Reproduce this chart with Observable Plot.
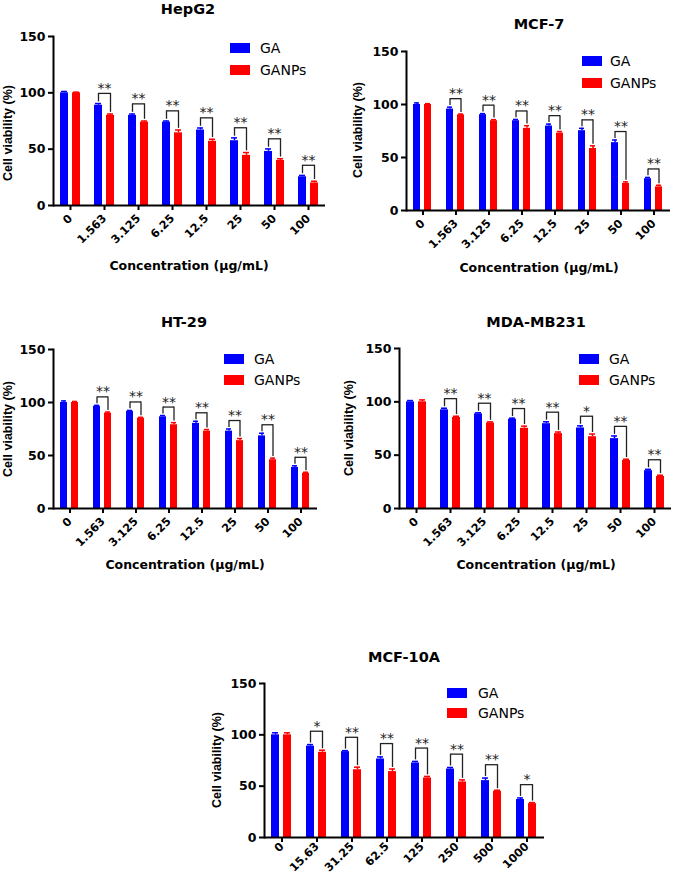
<!DOCTYPE html>
<html><head><meta charset="utf-8">
<script src="https://cdn.jsdelivr.net/npm/d3@7"></script>
<script src="https://cdn.jsdelivr.net/npm/@observablehq/plot@0.6"></script>
<style>
body{margin:0;background:#fff;}
#page{position:relative;width:677px;height:874px;overflow:hidden;background:#fff;}
.panel{position:absolute;}
.t{position:absolute;white-space:nowrap;transform:translate(-50%,-50%);color:#000;font-family:"DejaVu Sans";}
.title{font-weight:bold;font-size:14.5px;}
.xt{font-weight:bold;font-size:12.5px;}
.yl{font-family:"Liberation Sans";font-weight:bold;font-size:12.5px;transform:translate(-50%,-50%) rotate(-90deg);}
.sw{position:absolute;width:20px;height:10px;}
.lt{position:absolute;font-family:"DejaVu Sans";font-size:14px;transform:translateY(-50%);white-space:nowrap;color:#000;}
svg [aria-label="y-axis tick label"]{font-family:"DejaVu Sans";font-weight:bold;font-size:12.5px;}
svg [aria-label="fx-axis tick label"]{font-family:"DejaVu Sans";font-weight:bold;font-size:11.3px;}
svg [aria-label="y-axis tick"], svg [aria-label="fx-axis tick"]{stroke-width:2;}
</style>
</head><body>
<div id="page"></div>
<script>
// ---------- data ----------
const series = ["GA", "GANPs"];
const seriesColors = ["#0000ff", "#ff0000"];
const yTicks = [0, 50, 100, 150];
const concCancer = ["0", "1.563", "3.125", "6.25", "12.5", "25", "50", "100"];
const concNormal = ["0", "15.63", "31.25", "62.5", "125", "250", "500", "1000"];

const hepg2GA     = [100, 89, 80, 74, 67, 57.5, 48, 25.5];
const hepg2GAerr  = [1.2, 1.5, 1.2, 1.0, 1.8, 2.5, 2.2, 1.2];
const hepg2NP     = [100, 80, 74, 64.5, 57, 44.5, 40, 20];
const hepg2NPerr  = [0.6, 1.2, 1.0, 2.5, 1.8, 2.5, 1.5, 1.5];
const hepg2Sig    = ["", "**", "**", "**", "**", "**", "**", "**"];

const mcf7GA      = [100, 95.7, 90.4, 84.7, 79.7, 75.3, 64, 30];
const mcf7GAerr   = [1.5, 1.8, 1.0, 1.2, 1.8, 2.2, 2.5, 1.2];
const mcf7NP      = [100, 90.2, 84.7, 77.5, 73, 58.5, 25.5, 22.3];
const mcf7NPerr   = [0.8, 0.8, 1.0, 2.5, 1.5, 2.5, 1.5, 1.5];
const mcf7Sig     = ["", "**", "**", "**", "**", "**", "**", "**"];

const ht29GA      = [100, 96.5, 91.7, 86.5, 80.3, 73, 68.5, 38.8];
const ht29GAerr   = [1.5, 0.8, 0.8, 1.2, 2.0, 2.0, 2.5, 1.5];
const ht29NP      = [100, 90, 85.2, 79, 73, 64, 46, 33.2];
const ht29NPerr   = [1.0, 1.0, 0.8, 2.0, 1.5, 2.0, 1.5, 1.0];
const ht29Sig     = ["", "**", "**", "**", "**", "**", "**", "**"];

const mdaGA       = [100, 92.5, 88.7, 83.7, 79.5, 75.5, 65.5, 35.5];
const mdaGAerr    = [1.2, 1.5, 1.0, 1.0, 1.8, 2.0, 2.5, 1.2];
const mdaNP       = [100, 85.3, 80.2, 75.2, 70.2, 67.3, 45, 30];
const mdaNPerr    = [1.8, 1.2, 1.0, 2.0, 1.5, 2.5, 1.2, 1.2];
const mdaSig      = ["", "**", "**", "**", "**", "*", "**", "**"];

const mcf10aGA    = [100, 89, 83.6, 76.5, 72.6, 66.7, 55.4, 37];
const mcf10aGAerr = [2.0, 1.5, 1.0, 2.0, 1.5, 1.5, 2.5, 1.5];
const mcf10aNP    = [100, 83, 66, 64.2, 58, 54.1, 45, 33];
const mcf10aNPerr = [2.0, 2.0, 2.5, 2.5, 1.5, 2.0, 1.0, 1.0];
const mcf10aSig   = ["", "*", "**", "**", "**", "**", "**", "*"];

const panelTitles = ["HepG2", "MCF-7", "HT-29", "MDA-MB231", "MCF-10A"];
const yLabel = "Cell viability (%)";
const xLabel = "Concentration (\u00b5g/mL)";

// ---------- layout (pixels) ----------
const panels = [
  {title: panelTitles[0], conc: concCancer, ga: hepg2GA, gaErr: hepg2GAerr, np: hepg2NP, npErr: hepg2NPerr, sig: hepg2Sig,
   box: [0, 0, 338, 250], m: [36, 13, 45, 52], lift: 9, pad: 6,
   titleAt: [188, 9], yl: [8, 133], xt: [189, 265], leg: [230, 48, 70, 260]},
  {title: panelTitles[1], conc: concCancer, ga: mcf7GA, gaErr: mcf7GAerr, np: mcf7NP, npErr: mcf7NPerr, sig: mcf7Sig,
   box: [338, 0, 339, 250], m: [51, 4, 40, 65], lift: 8, pad: 6,
   titleAt: [539, 24], yl: [358, 130], xt: [539, 267], leg: [582, 61, 83, 610]},
  {title: panelTitles[2], conc: concCancer, ga: ht29GA, gaErr: ht29GAerr, np: ht29NP, npErr: ht29NPerr, sig: ht29Sig,
   box: [0, 280, 338, 270], m: [69, 21, 42, 52], lift: 8, pad: 6,
   titleAt: [184, 322], yl: [8, 429], xt: [185, 564], leg: [224, 359, 380, 254]},
  {title: panelTitles[3], conc: concCancer, ga: mdaGA, gaErr: mdaGAerr, np: mdaNP, npErr: mdaNPerr, sig: mdaSig,
   box: [338, 280, 339, 270], m: [68, 4, 42, 59], lift: 9, pad: 6,
   titleAt: [536, 322], yl: [349, 428], xt: [536, 564], leg: [579, 359, 380, 609]},
  {title: panelTitles[4], conc: concNormal, ga: mcf10aGA, gaErr: mcf10aGAerr, np: mcf10aNP, npErr: mcf10aNPerr, sig: mcf10aSig,
   box: [180, 580, 380, 294], m: [103, 16, 37, 83], lift: 13, pad: 2,
   titleAt: [404, 657], yl: [217, 760], xt: null, leg: [447, 693, 713, 478]}
];

const page = document.getElementById("page");

function addText(cls, txt, x, y) {
  const d = document.createElement("div");
  d.className = "t " + cls;
  d.textContent = txt;
  d.style.left = x + "px";
  d.style.top = y + "px";
  page.appendChild(d);
}

function drawPanel(p) {
  const rows = [];
  p.conc.forEach((c, i) => {
    rows.push({conc: c, series: series[0], value: p.ga[i], err: p.gaErr[i]});
    rows.push({conc: c, series: series[1], value: p.np[i], err: p.npErr[i]});
  });
  const sigRows = p.conc.map((c, i) => ({conc: c, ga: p.ga[i] + p.gaErr[i], np: p.np[i] + p.npErr[i], sig: p.sig[i]}))
    .filter(d => d.sig);
  const top = d => d.ga + p.lift;
  const [L, T, W, H] = p.box;
  const [mt, mr, mb, ml] = p.m;
  const chart = Plot.plot({
    width: W, height: H,
    marginTop: mt, marginRight: mr, marginBottom: mb, marginLeft: ml,
    style: {fontFamily: "DejaVu Sans", color: "#000", background: "transparent", overflow: "visible"},
    fx: {domain: p.conc, padding: 0, label: null},
    x: {domain: series, paddingInner: 0.32, paddingOuter: 0.55, axis: null},
    y: {domain: [0, 150], label: null},
    color: {domain: series, range: seriesColors},
    marks: [
      Plot.barY(rows, {fx: "conc", x: "series", y: "value", fill: "series"}),
      Plot.ruleX(rows, {fx: "conc", x: "series", y1: "value", y2: d => d.value + d.err, stroke: "series", strokeWidth: 1.5}),
      Plot.tickY(rows, {fx: "conc", x: "series", y: d => d.value + d.err, stroke: "series", strokeWidth: 1.5, insetLeft: 1, insetRight: 1}),
      Plot.link(sigRows, {fx: "conc", x1: () => series[0], x2: () => series[1], y1: top, y2: top, stroke: "#222", strokeWidth: 1.3}),
      Plot.ruleX(sigRows, {fx: "conc", x: () => series[0], y1: d => d.ga + 1.5, y2: top, stroke: "#222", strokeWidth: 1.3}),
      Plot.ruleX(sigRows, {fx: "conc", x: () => series[1], y1: d => d.np + 1.5, y2: top, stroke: "#222", strokeWidth: 1.3}),
      Plot.text(sigRows, {fx: "conc", y: top, text: "sig", dy: -5, fontSize: 14, fontFamily: "DejaVu Sans", fill: "#222"}),
      Plot.ruleY([0], {stroke: "#000", strokeWidth: 2}),
      Plot.frame({anchor: "left", facetAnchor: "left", stroke: "#000", strokeWidth: 2}),
      Plot.axisY({ticks: yTicks, tickSize: 5, tickPadding: 3, label: null, stroke: "#000"}),
      Plot.axisFx({anchor: "bottom", tickRotate: -45, tickSize: 5, tickPadding: p.pad, label: null})
    ]
  });
  const holder = document.createElement("div");
  holder.className = "panel";
  holder.style.left = L + "px";
  holder.style.top = T + "px";
  holder.appendChild(chart);
  page.appendChild(holder);

  addText("title", p.title, p.titleAt[0], p.titleAt[1]);
  addText("yl", yLabel, p.yl[0], p.yl[1]);
  if (p.xt) addText("xt", xLabel, p.xt[0], p.xt[1]);
  const [lx, ly1, ly2, tx] = p.leg;
  [ly1, ly2].forEach((ly, i) => {
    const s = document.createElement("div");
    s.className = "sw";
    s.style.left = lx + "px";
    s.style.top = (ly - 5) + "px";
    s.style.background = seriesColors[i];
    page.appendChild(s);
    const t = document.createElement("div");
    t.className = "lt";
    t.textContent = series[i];
    t.style.left = tx + "px";
    t.style.top = ly + "px";
    page.appendChild(t);
  });
}

panels.forEach(drawPanel);
</script>
</body></html>
